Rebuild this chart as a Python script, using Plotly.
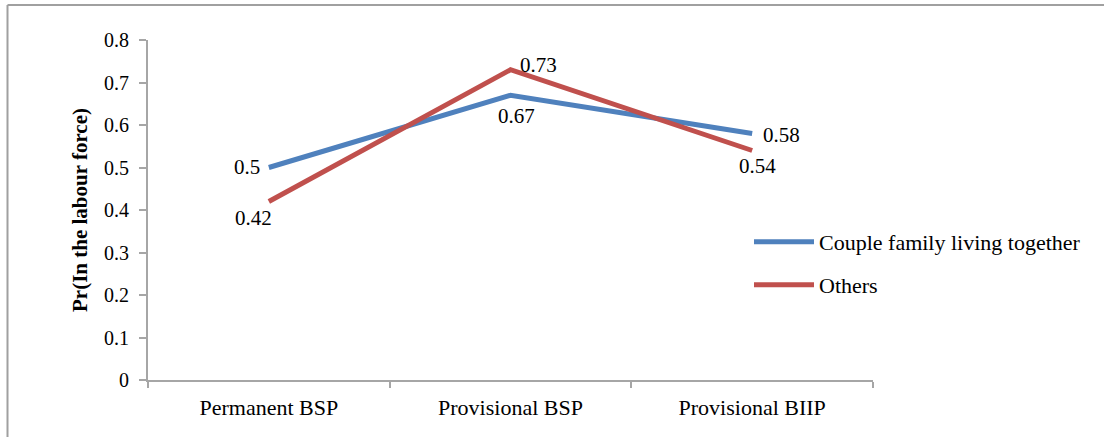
import plotly.graph_objects as go

# Categories and series values
categories = ["Permanent BSP", "Provisional BSP", "Provisional BIIP"]
couple_values = [0.50, 0.67, 0.58]
others_values = [0.42, 0.73, 0.54]
series_names = ["Couple family living together", "Others"]
y_tick_values = [0, 0.1, 0.2, 0.3, 0.4, 0.5, 0.6, 0.7, 0.8]
y_title = "Pr(In the labour force)"

BLUE = "#4F81BD"
RED = "#C0504D"
AXIS = "#A6A6A6"
FONT = "Liberation Serif"

W, H = 1104, 437
L, R, T, B = 148, 231, 40, 57
plot_w, plot_h = W - L - R, H - T - B


def px_x(px):
    return (px - L) / plot_w


def px_y(py):
    return (H - B - py) / plot_h


fig = go.Figure()
fig.add_trace(go.Scatter(
    x=categories, y=couple_values, mode="lines", name=series_names[0],
    line=dict(color=BLUE, width=5), legend="legend", hoverinfo="skip",
))
fig.add_trace(go.Scatter(
    x=categories, y=others_values, mode="lines", name=series_names[1],
    line=dict(color=RED, width=5), legend="legend2", hoverinfo="skip",
))

# Data label placement per point: (xanchor, yanchor, xshift, yshift)
couple_label_pos = [("right", "middle", -7, 1), ("center", "top", 6, -7), ("left", "middle", 9, -1)]
others_label_pos = [("center", "top", -15, -2), ("left", "middle", 7, 5), ("center", "top", 5, -1)]

annotations = []
for values, placements in ((couple_values, couple_label_pos), (others_values, others_label_pos)):
    for cat, v, (xa, ya, xs, ys) in zip(categories, values, placements):
        annotations.append(dict(
            x=cat, y=v, xref="x", yref="y", text=f"{v:g}", showarrow=False,
            xanchor=xa, yanchor=ya, xshift=xs, yshift=ys,
            font=dict(family=FONT, size=21, color="#000000"),
        ))

# Outer chart frame (top and left edges)
frame = dict(color="#A0A0A0", width=2)
shapes = [
    dict(type="line", xref="paper", yref="paper", x0=px_x(7.5), x1=px_x(W + 5),
         y0=px_y(5), y1=px_y(5), line=frame),
    dict(type="line", xref="paper", yref="paper", x0=px_x(7.5), x1=px_x(7.5),
         y0=px_y(5), y1=px_y(H + 5), line=frame),
]

legend_common = dict(
    font=dict(family=FONT, size=22, color="#000000"),
    bgcolor="rgba(0,0,0,0)", borderwidth=0,
    xanchor="left", yanchor="middle", itemwidth=60,
)

fig.update_layout(
    width=W, height=H,
    margin=dict(l=L, r=R, t=T, b=B),
    paper_bgcolor="#FFFFFF", plot_bgcolor="#FFFFFF",
    showlegend=True,
    legend=dict(x=px_x(749), y=px_y(242), **legend_common),
    legend2=dict(x=px_x(749), y=px_y(285), **legend_common),
    annotations=annotations,
    shapes=shapes,
    xaxis=dict(
        type="category", range=[-0.5, 2.5], tickson="boundaries",
        showline=True, linecolor=AXIS, linewidth=2,
        ticks="outside", ticklen=6, tickcolor=AXIS, tickwidth=2,
        showgrid=False, zeroline=False,
        tickfont=dict(family=FONT, size=22, color="#000000"),
        ticklabelstandoff=7,
    ),
    yaxis=dict(
        range=[0, 0.8], tickvals=y_tick_values,
        showline=True, linecolor=AXIS, linewidth=2,
        ticks="outside", ticklen=7, tickcolor=AXIS, tickwidth=2,
        showgrid=False, zeroline=False,
        tickfont=dict(family=FONT, size=20, color="#000000"),
        ticklabelstandoff=6,
        title=dict(text=f"<b>{y_title}</b>", standoff=11,
                   font=dict(family=FONT, size=21, color="#000000")),
    ),
)

fig.write_html("out.html")
